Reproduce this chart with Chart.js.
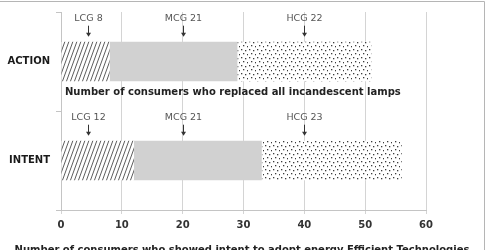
<!DOCTYPE html>
<html><head><meta charset="utf-8">
<script src="https://cdn.jsdelivr.net/npm/chart.js@4/dist/chart.umd.min.js"></script>
<style>html,body{margin:0;padding:0;background:#fff;overflow:hidden}canvas{display:block}</style>
</head><body>
<canvas id="c" width="487" height="250"></canvas>
<script>
const categories = ['ACTION', 'INTENT'];
const seriesNames = ['LCG', 'MCG', 'HCG'];
const lcgValues = [8, 12];
const mcgValues = [21, 21];
const hcgValues = [22, 23];
const xTickMin = 0, xTickMax = 60, xTickStep = 10;
const annotationAnchors = [4.5, 20, 40];
const captions = [
  'Number of consumers who replaced all incandescent lamps',
  'Number of consumers who showed intent to adopt energy Efficient Technologies'
];

const FONT = "'DejaVu Sans', Verdana, sans-serif";

function hatchPattern() {
  const c = document.createElement('canvas'); c.width = 4; c.height = 11;
  const g = c.getContext('2d');
  g.fillStyle = '#fff'; g.fillRect(0, 0, 4, 11);
  g.strokeStyle = '#4a4a4a'; g.lineWidth = 0.9;
  g.beginPath();
  for (let k = -1; k <= 1; k++) { g.moveTo(k * 4, 11); g.lineTo(k * 4 + 4, 0); }
  g.stroke();
  return g.createPattern(c, 'repeat');
}
function dotPattern() {
  const c = document.createElement('canvas'); c.width = 8; c.height = 8;
  const g = c.getContext('2d');
  g.fillStyle = '#fff'; g.fillRect(0, 0, 8, 8);
  g.fillStyle = '#3c3c3c';
  [[1,1],[5,2],[3,5],[7,6]].forEach(([x,y]) => g.fillRect(x, y, 1.3, 1.3));
  return g.createPattern(c, 'repeat');
}

const seriesValues = [lcgValues, mcgValues, hcgValues];
const fills = [hatchPattern(), '#d1d1d1', dotPattern()];

const annotate = {
  id: 'annotate',
  afterDatasetsDraw(chart) {
    const ctx = chart.ctx, xs = chart.scales.x, area = chart.chartArea;
    ctx.save();
    categories.forEach((cat, i) => {
      const bar = chart.getDatasetMeta(0).data[i];
      const top = bar.y - bar.height / 2, bottom = bar.y + bar.height / 2;
      seriesNames.forEach((name, s) => {
        const px = Math.round(xs.getPixelForValue(annotationAnchors[s])) + 0.5;
        ctx.fillStyle = '#555';
        ctx.font = '9.5px ' + FONT;
        ctx.textAlign = 'center'; ctx.textBaseline = 'middle';
        ctx.fillText(name + ' ' + seriesValues[s][i], px, top - 23);
        ctx.strokeStyle = '#333'; ctx.lineWidth = 1;
        ctx.beginPath(); ctx.moveTo(px, top - 16); ctx.lineTo(px, top - 8); ctx.stroke();
        ctx.fillStyle = '#333';
        ctx.beginPath(); ctx.moveTo(px - 2.5, top - 9); ctx.lineTo(px + 2.5, top - 9); ctx.lineTo(px, top - 5); ctx.closePath(); ctx.fill();
      });
      if (i === 0) {
        ctx.fillStyle = '#222';
        ctx.font = 'bold 10px ' + FONT;
        ctx.textAlign = 'left'; ctx.textBaseline = 'middle';
        ctx.fillText(captions[0], area.left + 4, bottom + 11);
      }
    });
    ctx.restore();
  },
  afterDraw(chart) {
    const ctx = chart.ctx;
    ctx.save();
    ctx.fillStyle = '#222';
    ctx.font = 'bold 10px ' + FONT;
    ctx.textAlign = 'center'; ctx.textBaseline = 'top';
    ctx.fillText(captions[1], 242, 245.5);
    ctx.strokeStyle = '#b5b5b5'; ctx.lineWidth = 1;
    ctx.beginPath(); ctx.moveTo(0, 1.5); ctx.lineTo(484.5, 1.5); ctx.lineTo(484.5, 250); ctx.stroke();
    ctx.restore();
  }
};

new Chart(document.getElementById('c'), {
  type: 'bar',
  data: {
    labels: categories,
    datasets: seriesNames.map((n, s) => ({
      label: n, data: seriesValues[s], backgroundColor: fills[s], borderWidth: 0,
      barPercentage: 0.4, categoryPercentage: 1
    }))
  },
  options: {
    indexAxis: 'y', responsive: false, animation: false,
    layout: { padding: { top: 7, right: 61, left: 0, bottom: 0 } },
    plugins: { legend: { display: false }, tooltip: { enabled: false } },
    scales: {
      x: {
        stacked: true, min: xTickMin, max: xTickMax,
        ticks: { stepSize: xTickStep, color: '#333', padding: 5, font: { family: FONT, size: 10, weight: 'bold' } },
        grid: { color: '#d4d4d4', tickLength: 4 },
        border: { color: '#c4c4c4' },
        afterFit(s) { s.height = 40; }
      },
      y: {
        stacked: true,
        ticks: { color: '#1a1a1a', padding: 6, font: { family: FONT, size: 10, weight: 'bold' } },
        grid: { drawOnChartArea: false, tickLength: 5, color: '#c4c4c4', offset: true },
        border: { color: '#c4c4c4' },
        afterFit(s) { s.width = 61; }
      }
    }
  },
  plugins: [annotate]
});
</script>
</body></html>
